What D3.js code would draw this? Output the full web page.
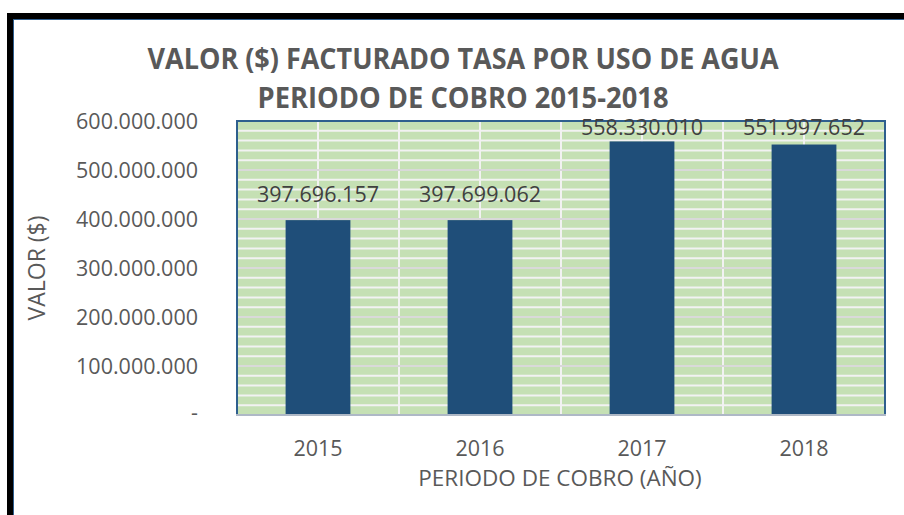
<!DOCTYPE html>
<html>
<head>
<meta charset="utf-8">
<script src="https://cdn.jsdelivr.net/npm/d3@7"></script>
<style>
  html, body { margin: 0; padding: 0; background: #ffffff; }
  svg { display: block; }
</style>
</head>
<body>
<svg id="chart" width="904" height="515"></svg>
<script>
// Billed water-use fee by collection year
const years = ["2015", "2016", "2017", "2018"];
const values = [397696157, 397699062, 558330010, 551997652];
const yTicks = [0, 100000000, 200000000, 300000000, 400000000, 500000000, 600000000];
const titleLines = ["VALOR ($) FACTURADO TASA POR USO DE AGUA", "PERIODO DE COBRO 2015-2018"];
const yTitle = "VALOR ($)";
const xTitle = "PERIODO DE COBRO (AÑO)";

const svg = d3.select("#chart");
const W = 904, H = 515;
const plot = { left: 237, right: 885, top: 121, bottom: 415 };
const FONT = "'Open Sans', 'DejaVu Sans', sans-serif";

// dotted thousands separator, dash for zero
const fmt = d3.formatLocale({ decimal: ",", thousands: ".", grouping: [3], currency: ["$", ""] }).format(",.0f");
const tickFmt = v => v === 0 ? "-" : fmt(v);

// outer frame
svg.append("rect").attr("x", 0).attr("y", 0).attr("width", W).attr("height", H).attr("fill", "#ffffff");
svg.append("rect").attr("x", 10).attr("y", 16).attr("width", W + 40).attr("height", H + 40)
  .attr("fill", "#ffffff").attr("stroke", "#000000").attr("stroke-width", 6);
svg.append("rect").attr("x", 13.5).attr("y", 19.5).attr("width", W + 40).attr("height", H + 40)
  .attr("fill", "none").attr("stroke", "#2f5f8f").attr("stroke-width", 1);

const x = d3.scaleBand().domain(years).range([plot.left, plot.right]).paddingInner(0.6).paddingOuter(0.3);
const xCat = d3.scaleBand().domain(years).range([plot.left, plot.right]);
const y = d3.scaleLinear().domain([0, 600000000]).range([plot.bottom, plot.top]);

// plot background
svg.append("rect")
  .attr("x", plot.left).attr("y", plot.top)
  .attr("width", plot.right - plot.left).attr("height", plot.bottom - plot.top)
  .attr("fill", "#c5e0b4");

// minor horizontal gridlines
const minor = d3.range(0, 600000001, 20000000).filter(v => v % 100000000 !== 0);
svg.append("g").selectAll("line").data(minor).join("line")
  .attr("x1", plot.left).attr("x2", plot.right)
  .attr("y1", d => y(d)).attr("y2", d => y(d))
  .attr("stroke", "#f2f2f2").attr("stroke-width", 2);

// vertical gridlines at category centres and boundaries
const vLines = [];
years.forEach((yr, i) => {
  if (i > 0) vLines.push(xCat(yr));
  vLines.push(xCat(yr) + xCat.bandwidth() / 2);
});
svg.append("g").selectAll("line").data(vLines).join("line")
  .attr("x1", d => d).attr("x2", d => d)
  .attr("y1", plot.top).attr("y2", plot.bottom)
  .attr("stroke", "#f2f2f2").attr("stroke-width", 2);

// major horizontal gridlines
svg.append("g").selectAll("line").data(yTicks.filter(v => v > 0 && v < 600000000)).join("line")
  .attr("x1", plot.left).attr("x2", plot.right)
  .attr("y1", d => y(d)).attr("y2", d => y(d))
  .attr("stroke", "#d9d9d9").attr("stroke-width", 2);

// bars
svg.append("g").selectAll("rect").data(values).join("rect")
  .attr("x", (d, i) => x(years[i]))
  .attr("width", x.bandwidth())
  .attr("y", d => y(d))
  .attr("height", d => y(0) - y(d))
  .attr("fill", "#1f4e79");

// plot-area border
svg.append("path")
  .attr("d", `M${plot.left},${plot.bottom} V${plot.top} H${plot.right} V${plot.bottom}`)
  .attr("fill", "none").attr("stroke", "#2e5f8e").attr("stroke-width", 2);
svg.append("line")
  .attr("x1", plot.left - 1).attr("x2", plot.right + 1)
  .attr("y1", plot.bottom).attr("y2", plot.bottom)
  .attr("stroke", "#aeb8c6").attr("stroke-width", 2);

// y axis labels
const yAxis = d3.axisLeft(y).tickValues(yTicks).tickFormat(tickFmt).tickSize(0).tickPadding(0);
const gy = svg.append("g").attr("transform", "translate(198,0)").call(yAxis);
gy.select(".domain").remove();
gy.selectAll("text")
  .attr("font-family", FONT).attr("font-size", 21.5).attr("fill", "#595959")
  .attr("dy", "0.36em");
gy.selectAll(".tick").filter(d => d === 0).select("text").attr("dy", "0.2em");

// x axis labels
const xAxis = d3.axisBottom(xCat).tickSize(0).tickPadding(0);
const gx = svg.append("g").attr("transform", "translate(0,456)").call(xAxis);
gx.select(".domain").remove();
gx.selectAll("text")
  .attr("font-family", FONT).attr("font-size", 21.5).attr("fill", "#595959")
  .attr("dy", 0);

// data labels
svg.append("g").selectAll("text").data(values).join("text")
  .attr("x", (d, i) => x(years[i]) + x.bandwidth() / 2)
  .attr("y", d => Math.max(y(d) - 18, 135))
  .attr("text-anchor", "middle")
  .attr("font-family", FONT).attr("font-size", 21.5).attr("fill", "#404040")
  .text(d => fmt(d));

// title
svg.append("g").selectAll("text").data(titleLines).join("text")
  .attr("x", 463)
  .attr("y", (d, i) => 69 + i * 39)
  .attr("text-anchor", "middle")
  .attr("font-family", FONT).attr("font-weight", 700).attr("font-size", 29)
  .attr("fill", "#595959")
  .attr("textLength", (d, i) => i === 0 ? 631 : 411)
  .attr("lengthAdjust", "spacingAndGlyphs")
  .text(d => d);

// axis titles
svg.append("text")
  .attr("transform", "translate(45,268) rotate(-90)")
  .attr("text-anchor", "middle")
  .attr("font-family", FONT).attr("font-size", 23).attr("fill", "#595959")
  .text(yTitle);

svg.append("text")
  .attr("x", 560).attr("y", 486)
  .attr("text-anchor", "middle")
  .attr("font-family", FONT).attr("font-size", 22.5).attr("fill", "#595959")
  .text(xTitle);
</script>
</body>
</html>
